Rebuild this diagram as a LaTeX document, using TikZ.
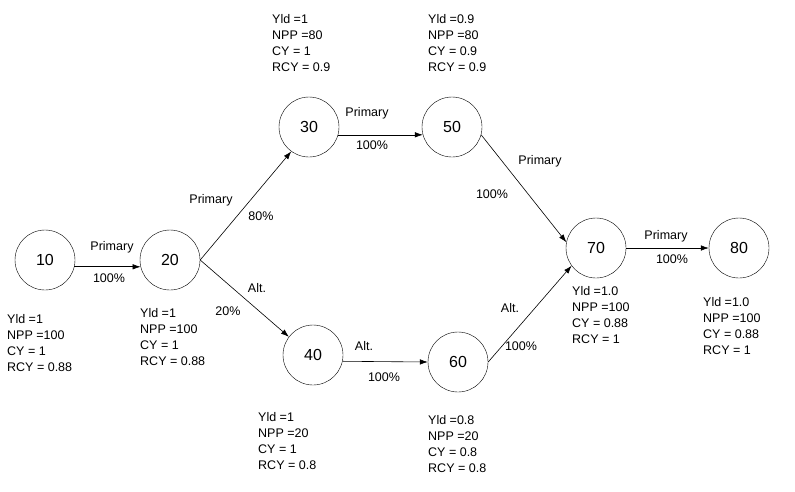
\documentclass[tikz,border=0pt]{standalone}
\usepackage{fontspec}
\setmainfont{Liberation Sans}
\usetikzlibrary{arrows.meta}
\begin{document}
\begin{tikzpicture}[x=1pt, y=-1pt, font=\fontsize{12.5}{16}\selectfont,
    op/.style={draw, circle, minimum size=60pt, inner sep=0pt, font=\fontsize{16}{18}\selectfont},
    info/.style={anchor=north west, align=left, inner sep=0pt},
    lbl/.style={inner sep=0pt},
    flow/.style={-{Latex[length=8pt,width=5.5pt]}, line width=0.6pt}]
    \useasboundingbox (0,0) rectangle (795,491);
    % operations
    \node[op] (n10) at (45,260) {10};
    \node[op] (n20) at (170,260) {20};
    \node[op] (n30) at (309,127) {30};
    \node[op] (n50) at (452,127) {50};
    \node[op] (n40) at (313,355) {40};
    \node[op] (n60) at (458,362) {60};
    \node[op] (n70) at (596,248) {70};
    \node[op] (n80) at (739,248) {80};
    % yields
    \node[info] (i10) at (7,314) {Yld =1\\NPP =100\\CY = 1\\RCY = 0.88};
    \node[info] (i20) at (140,308) {Yld =1\\NPP =100\\CY = 1\\RCY = 0.88};
    \node[info] (i30) at (272,14) {Yld =1\\NPP =80\\CY = 1\\RCY = 0.9};
    \node[info] (i50) at (428,14) {Yld =0.9\\NPP =80\\CY = 0.9\\RCY = 0.9};
    \node[info] (i40) at (258,412) {Yld =1\\NPP =20\\CY = 1\\RCY = 0.8};
    \node[info] (i60) at (428,415) {Yld =0.8\\NPP =20\\CY = 0.8\\RCY = 0.8};
    \node[info] (i70) at (572,286) {Yld =1.0\\NPP =100\\CY = 0.88\\RCY = 1};
    \node[info] (i80) at (703,297) {Yld =1.0\\NPP =100\\CY = 0.88\\RCY = 1};
    % routes
    \draw[flow] (n10.-13) -- (n20.-167);
    \draw[flow] (n20.east) -- (n30.234);
    \draw[flow] (n20.east) -- (n40.143);
    \draw[flow] (n30.-15) -- (n50.-165);
    \draw[flow] (n40.-12) -- (n60.west);
    \draw[flow] (n50.-15) -- (n70.169);
    \draw[flow] (n60.east) -- (n70.216);
    \draw[flow] (n70.east) -- (n80.west);
    \node[lbl] (p1) at (112,247) {Primary};
    \node[lbl] (q1) at (109,278) {100\%};
    \node[lbl] (p2) at (211,200) {Primary};
    \node[lbl] (q2) at (261,216) {80\%};
    \node[lbl] (p3) at (257,288) {Alt.};
    \node[lbl] (q3) at (228,311) {20\%};
    \node[lbl] (p4) at (367,113) {Primary};
    \node[lbl] (q4) at (372,145) {100\%};
    \node[lbl] (p5) at (540,161) {Primary};
    \node[lbl] (q5) at (492,194) {100\%};
    \node[lbl] (p6) at (510,308) {Alt.};
    \node[lbl] (q6) at (521,346) {100\%};
    \node[lbl] (p7) at (364,346) {Alt.};
    \node[lbl] (q7) at (384,377) {100\%};
    \node[lbl] (p8) at (666,236) {Primary};
    \node[lbl] (q8) at (672,259) {100\%};
\end{tikzpicture}
\end{document}
